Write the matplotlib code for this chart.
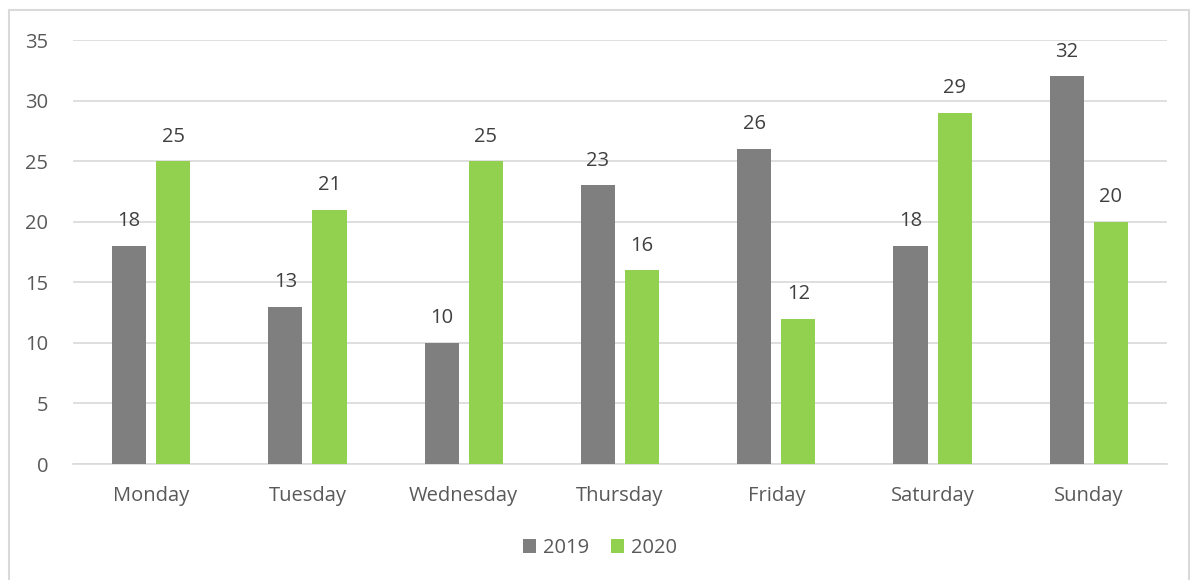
import numpy as np
import matplotlib

matplotlib.use('Agg')
import matplotlib.pyplot as plt
from matplotlib.patches import Rectangle

days = ["Monday", "Tuesday", "Wednesday", "Thursday", "Friday", "Saturday", "Sunday"]
vals_2019 = [18, 13, 10, 23, 26, 18, 32]
vals_2020 = [25, 21, 25, 16, 12, 29, 20]

plt.rcParams['font.family'] = ['Open Sans', 'DejaVu Sans']
fs = 14.5

fig = plt.figure(figsize=(11.9, 5.8), dpi=100)
# chart border like excel
fig.patches.append(Rectangle((9 / 1190, -0.05), 1179.5 / 1190, 1.05 - 10 / 580,
                             transform=fig.transFigure, fill=False,
                             edgecolor='#d9d9d9', linewidth=1.5))

ax = fig.add_axes([73 / 1190, 1 - 464 / 580, 1094 / 1190, 424 / 580])
x = np.arange(len(days))
w = 0.218
off = 0.141
b1 = ax.bar(x - off, vals_2019, w, color='#7f7f7f', label='2019', zorder=3)
b2 = ax.bar(x + off, vals_2020, w, color='#92d050', label='2020', zorder=3)

for bars in (b1, b2):
    for r in bars:
        ax.annotate(str(int(r.get_height())), (r.get_x() + r.get_width() / 2, r.get_height()),
                    xytext=(0, 10.5), textcoords='offset points', ha='center', va='bottom',
                    fontsize=fs, color='#404040')

ax.set_xlim(-0.5, len(days) - 0.5)
ax.set_ylim(0, 35)
ax.set_yticks(range(0, 36, 5))
ax.yaxis.grid(True, color='#d9d9d9', linewidth=1.2, zorder=0)
ax.set_xticks(x)
ax.set_xticklabels(days)
ax.tick_params(axis='both', length=0, labelsize=fs, labelcolor='#595959')
ax.tick_params(axis='x', pad=15.5)
ax.tick_params(axis='y', pad=18)
for s in ['top', 'right', 'left']:
    ax.spines[s].set_visible(False)
ax.spines['bottom'].set_color('#d9d9d9')
ax.spines['bottom'].set_linewidth(1.2)

fig.legend(loc='center', bbox_to_anchor=(600 / 1190, 1 - 548 / 580), ncol=2, frameon=False,
           fontsize=fs, labelcolor='#595959', handlelength=0.65, handleheight=0.65,
           handletextpad=0.35, columnspacing=1.1)

fig.savefig('out.png', dpi=100, facecolor='w')
